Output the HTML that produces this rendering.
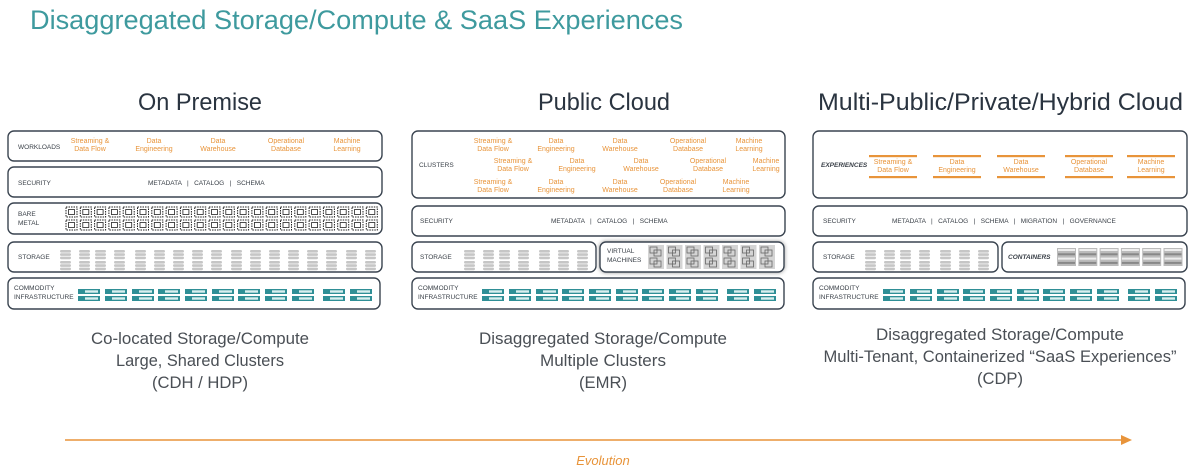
<!DOCTYPE html>
<html><head><meta charset="utf-8">
<style>
html,body{margin:0;padding:0;background:#fff;}
svg{display:block;}
text{font-family:"Liberation Sans",sans-serif;}
</style></head>
<body>
<svg id="s" width="1200" height="473" viewBox="0 0 1200 473" xmlns="http://www.w3.org/2000/svg">
<text x="30" y="29" font-size="27" fill="#3e9a9e" textLength="653" lengthAdjust="spacingAndGlyphs">Disaggregated Storage/Compute &amp; SaaS Experiences</text>
<text x="138" y="110" font-size="24" fill="#2a3440" textLength="124" lengthAdjust="spacingAndGlyphs">On Premise</text>
<text x="538" y="110" font-size="24" fill="#2a3440" textLength="132" lengthAdjust="spacingAndGlyphs">Public Cloud</text>
<text x="818" y="110" font-size="24" fill="#2a3440" textLength="365" lengthAdjust="spacingAndGlyphs">Multi-Public/Private/Hybrid Cloud</text>
<g font-size="17" fill="#4a4f55" text-anchor="middle">
<text x="200" y="344" textLength="218" lengthAdjust="spacingAndGlyphs">Co-located Storage/Compute</text>
<text x="200" y="366" textLength="168" lengthAdjust="spacingAndGlyphs">Large, Shared Clusters</text>
<text x="200" y="388" textLength="96" lengthAdjust="spacingAndGlyphs">(CDH / HDP)</text>
<text x="603" y="344" textLength="248" lengthAdjust="spacingAndGlyphs">Disaggregated Storage/Compute</text>
<text x="603" y="366" textLength="126" lengthAdjust="spacingAndGlyphs">Multiple Clusters</text>
<text x="603" y="388" textLength="48" lengthAdjust="spacingAndGlyphs">(EMR)</text>
<text x="1000" y="340" textLength="248" lengthAdjust="spacingAndGlyphs">Disaggregated Storage/Compute</text>
<text x="1000" y="362" textLength="353" lengthAdjust="spacingAndGlyphs">Multi-Tenant, Containerized “SaaS Experiences”</text>
<text x="1000" y="384" textLength="46" lengthAdjust="spacingAndGlyphs">(CDP)</text>
</g>
<line x1="65" y1="440" x2="1122" y2="440" stroke="#e8943a" stroke-width="1.5"/>
<polygon points="1121,435 1132,440 1121,445" fill="#e8943a"/>
<text x="603" y="465" font-size="13" font-style="italic" fill="#e8943a" text-anchor="middle">Evolution</text>
<g id="g"></g>
</svg>
<script>
var o='';
var OR='#e8943a',DK='#3a4048',TL='#2f8f96';
function box(x,y,w,h,sh){o+='<rect x="'+x+'" y="'+y+'" width="'+w+'" height="'+h+'" rx="6" fill="#fff" stroke="#3a4450" stroke-width="1.4"'+(sh?' style="filter:drop-shadow(0 0 2px #999)"':'')+'/>';}
function t(x,y,s,fs,c,a,it){o+='<text x="'+x+'" y="'+y+'" font-size="'+fs+'" fill="'+c+'"'+(a?' text-anchor="'+a+'"':'')+(it?' font-style="italic" font-weight="bold"':'')+'>'+s+'</text>';}
function t2(x,y,a,b,c){t(x,y,a,7,c||OR,'middle');t(x,y+8,b,7,c||OR,'middle');}
function chip(x,y){o+='<rect x="'+x+'" y="'+y+'" width="11" height="10" fill="#fff" stroke="#222" stroke-width="1" stroke-dasharray="1.5,1"/><rect x="'+(x+2.5)+'" y="'+(y+2.5)+'" width="6" height="5" fill="none" stroke="#222" stroke-width="0.8"/>';}
function cyl(x,y){for(var i=0;i<3;i++)o+='<rect x="'+x+'" y="'+(y+i*3.3)+'" width="11" height="2.6" rx="1.2" fill="#c6c6c6"/>';}
function srv(x,y){for(var i=0;i<2;i++){o+='<rect x="'+x+'" y="'+(y+i*7)+'" width="22" height="5" fill="'+TL+'"/><rect x="'+(x+7)+'" y="'+(y+i*7+1.3)+'" width="13" height="2.4" fill="#d8eeee"/>';}}
function commod(px,y){box(px,y,372,31);t(px+6,y+12,'COMMODITY',6.5,DK);t(px+6,y+21,'INFRASTRUCTURE',6.5,DK);
 var xs=[0,27,54,80,107,134,160,187,214,245,272];xs.forEach(function(d){srv(px+70+d,y+11);});}
function stor(px,y,n){var xs=[0,19,35,54,75,94,113,132,151,171,190,209,228,247,266,286,305];for(var i=0;i<n;i++){cyl(px+52+xs[i],y+8);cyl(px+52+xs[i],y+19);}}
// Panel 1
var p=8;
box(p,131,374,30);t(p+10,149,'WORKLOADS',6.5,DK);
t2(90,143,'Streaming &amp;','Data Flow');t2(154,143,'Data','Engineering');t2(218,143,'Data','Warehouse');t2(286,143,'Operational','Database');t2(347,143,'Machine','Learning');
box(p,167,374,30);t(p+10,185,'SECURITY',6.5,DK);t(148,185,'METADATA &#160;&#160;| &#160;&#160;CATALOG &#160;&#160;| &#160;&#160;SCHEMA',6.5,DK);
box(p,203,374,31);t(p+10,216,'BARE',6.5,DK);t(p+10,225,'METAL',6.5,DK);
for(var i=0;i<22;i++){chip(66+i*14.3,207);chip(66+i*14.3,220);}
box(p,242,374,30);t(p+10,259,'STORAGE',6.5,DK);stor(p,242,17);
commod(p,278);
// Panel 2
p=412;
box(p,131,373,67);t(p+7,167,'CLUSTERS',6.5,DK);
var c1=[[493,'Streaming &amp;','Data Flow'],[556,'Data','Engineering'],[620,'Data','Warehouse'],[688,'Operational','Database'],[749,'Machine','Learning']];
c1.forEach(function(c){t2(c[0],143,c[1],c[2]);});
[[513],[577],[641],[708],[766]].forEach(function(c,i){t2(c[0],163,c1[i][1],c1[i][2]);});
[[493],[556],[620],[678],[736]].forEach(function(c,i){t2(c[0],184,c1[i][1],c1[i][2]);});
box(p,206,373,30);t(p+8,223,'SECURITY',6.5,DK);t(551,223,'METADATA &#160;&#160;| &#160;&#160;CATALOG &#160;&#160;| &#160;&#160;SCHEMA',6.5,DK);
box(p,242,184,30);t(p+8,259,'STORAGE',6.5,DK);
[0,19,35,54,75,94,113].forEach(function(d){cyl(p+52+d,250);cyl(p+52+d,261);});
box(600,242,184,30,1);t(607,253,'VIRTUAL',6.5,DK);t(607,262,'MACHINES',6.5,DK);
for(var i=0;i<7;i++){var x=648+i*18.5;o+='<rect x="'+x+'" y="245" width="16" height="24" fill="#d4d4d4"/>';
 for(var j=0;j<2;j++){o+='<rect x="'+(x+2)+'" y="'+(247+j*11)+'" width="7" height="6" fill="none" stroke="#666" stroke-width="0.8"/><rect x="'+(x+6)+'" y="'+(250+j*11)+'" width="7" height="6" fill="none" stroke="#666" stroke-width="0.8"/>';}}
commod(p,278);
// Panel 3
p=813;
box(p,131,374,67);t(p+8,167,'EXPERIENCES',6.5,DK,null,1);
[[893,'Streaming &amp;','Data Flow'],[957,'Data','Engineering'],[1021,'Data','Warehouse'],[1089,'Operational','Database'],[1151,'Machine','Learning']].forEach(function(c){
 o+='<rect x="'+(c[0]-24)+'" y="155" width="48" height="2.2" fill="'+OR+'"/><rect x="'+(c[0]-24)+'" y="176" width="48" height="2.2" fill="'+OR+'"/>';t2(c[0],164,c[1],c[2]);});
box(p,206,374,30);t(p+10,223,'SECURITY',6.5,DK);t(892,223,'METADATA &#160;&#160;| &#160;&#160;CATALOG &#160;&#160;| &#160;&#160;SCHEMA &#160;&#160;| &#160;&#160;MIGRATION &#160;&#160;| &#160;&#160;GOVERNANCE',6.5,DK);
box(p,242,185,30);t(p+10,259,'STORAGE',6.5,DK);
[0,19,35,54,75,94,113].forEach(function(d){cyl(p+52+d,250);cyl(p+52+d,261);});
box(1002,242,185,30);t(1008,259,'CONTAINERS',6.5,DK,null,1);
for(var i=0;i<6;i++){var x=1057+i*21.3;o+='<rect x="'+x+'" y="248" width="19" height="18" fill="#bbb"/>';for(var j=0;j<4;j++)o+='<rect x="'+(x+1)+'" y="'+(249+j*4.3)+'" width="17" height="2" fill="'+(j%2?'#888':'#eee')+'"/>';}
commod(p,278);
document.getElementById('g').innerHTML=o;
</script>
</body></html>
